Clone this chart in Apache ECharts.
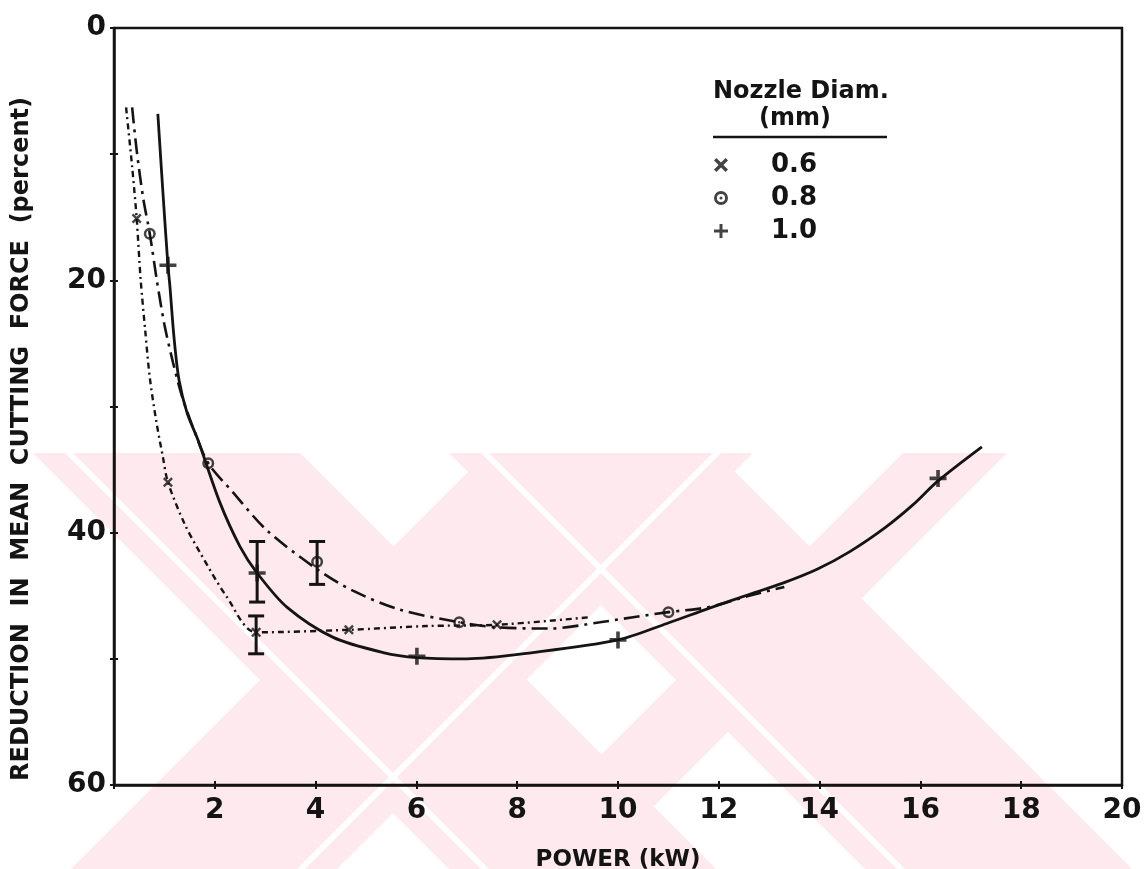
<!DOCTYPE html>
<html><head><meta charset="utf-8">
<script src="https://cdn.jsdelivr.net/npm/echarts@6/dist/echarts.min.js"></script>
<style>html,body{margin:0;padding:0;background:#fff}#c{width:1146px;height:869px}</style>
</head><body><div id="c"></div>
<script>
// ---- data ----
const seriesNames = ['0.6', '0.8', '1.0'];
const xTicks = [2, 4, 6, 8, 10, 12, 14, 16, 18, 20];
const yTicks = [0, 20, 40, 60];

// fitted curves (power kW, reduction %)
const curve06 = [[0.24,6.3],[0.36,11.0],[0.45,15.1],[0.53,20.0],[0.62,24.0],[0.71,27.7],[0.84,31.2],[0.97,34.0],[1.07,36.0],[1.4,39.3],[1.71,41.6],[2.24,45.1],[2.82,47.9],[4.66,47.7],[6.2,47.4],[7.6,47.3],[9.44,46.7]];
const curve08 = [[0.36,6.3],[0.45,9.7],[0.58,13.5],[0.71,16.3],[0.85,20.0],[1.0,23.5],[1.17,26.5],[1.35,29.2],[1.6,32.0],[1.87,34.5],[2.36,36.8],[3.03,39.8],[4.03,42.9],[4.74,44.6],[5.67,46.1],[6.85,47.1],[7.6,47.5],[8.65,47.6],[9.64,47.1],[10.3,46.7],[11.0,46.3],[11.8,45.9],[12.6,45.0],[13.3,44.3]];
const curve10 = [[0.87,6.8],[0.97,13.0],[1.07,18.8],[1.11,20.5],[1.19,24.5],[1.29,27.9],[1.45,30.5],[1.67,32.7],[2.1,37.6],[2.5,41.1],[2.84,43.2],[3.43,45.9],[4.35,48.3],[5.34,49.5],[6.01,49.9],[7.0,50.0],[8.31,49.5],[10.0,48.5],[10.97,47.2],[11.8,46.0],[12.6,44.9],[13.27,44.0],[13.95,42.9],[14.6,41.5],[15.3,39.6],[15.85,37.8],[16.35,35.9],[17.22,33.2]];

// measured points
const points06 = [[0.45,15.1],[1.07,36.0],[2.82,47.9],[4.66,47.7],[7.6,47.3]];
const points08 = [[0.71,16.3],[1.87,34.5],[4.03,42.3],[6.85,47.1],[11.0,46.3]];
const points10 = [[1.07,18.8],[2.84,43.2],[6.01,49.8],[10.0,48.5],[16.35,35.7]];

// error bars [power, low, high]
const errorBars = [[2.84,40.7,45.5],[4.03,40.7,44.1],[2.82,46.6,49.6]];

// ---- styles ----
const INK = '#141414';
const FONT = '"DejaVu Sans", sans-serif';
const symX = 'path://M0,1.7 L1.7,0 L5,3.3 L8.3,0 L10,1.7 L6.7,5 L10,8.3 L8.3,10 L5,6.7 L1.7,10 L0,8.3 L3.3,5 Z';
const symO = 'path://M0,-6 A6,6 0 1,1 0,6 A6,6 0 1,1 0,-6 Z M0,-3.5 A3.5,3.5 0 1,0 0,3.5 A3.5,3.5 0 1,0 0,-3.5 Z M0,-1.3 A1.3,1.3 0 1,1 0,1.3 A1.3,1.3 0 1,1 0,-1.3 Z';
const symP = 'path://M-1.7,-8 H1.7 V-1.7 H8 V1.7 H1.7 V8 H-1.7 V1.7 H-8 V-1.7 H-1.7 Z';

// ---- background scan watermark (decoration, page pixels) ----
const WM_TOP = 453, WM_BOTTOM = 869, WM_PINK = '#fde9ee';
function backBand(c1, c2, fill) { // "\" band: x - y in [c1, c2]
  return {type: 'polygon', z: -100, silent: true,
    shape: {points: [[c1 + WM_TOP, WM_TOP], [c2 + WM_TOP, WM_TOP], [c2 + WM_BOTTOM, WM_BOTTOM], [c1 + WM_BOTTOM, WM_BOTTOM]]},
    style: {fill: fill}};
}
function fwdBand(d1, d2, fill) { // "/" band: x + y in [d1, d2]
  return {type: 'polygon', z: -100, silent: true,
    shape: {points: [[d1 - WM_TOP, WM_TOP], [d2 - WM_TOP, WM_TOP], [d2 - WM_BOTTOM, WM_BOTTOM], [d1 - WM_BOTTOM, WM_BOTTOM]]},
    style: {fill: fill}};
}
const watermark = [
  backBand(-420, -153, WM_PINK), fwdBand(940, 1206, WM_PINK),
  backBand(-4, 263, WM_PINK), fwdBand(1356, 1460, WM_PINK),
  backBand(-388, -380, '#fff'), fwdBand(1166, 1174, '#fff'),
  backBand(28, 36, '#fff')
];

const chart = echarts.init(document.getElementById('c'), null, {renderer: 'canvas'});

function xAxisBase(extra) {
  return Object.assign({
    type: 'value', min: 0, max: 20, interval: 2, position: 'bottom',
    splitLine: {show: false}
  }, extra);
}
function yAxisBase(extra) {
  return Object.assign({
    type: 'value', min: 0, max: 60, interval: 10, inverse: true, position: 'left',
    splitLine: {show: false}
  }, extra);
}
const gridBox = {left: 114, right: 24, top: 28, bottom: 84, containLabel: false, outerBoundsMode: 'none'};

const option = {
  backgroundColor: '#fff',
  animation: false,
  grid: [
    Object.assign({show: true, borderColor: INK, borderWidth: 2.5, backgroundColor: 'transparent'}, gridBox),
    Object.assign({show: false}, gridBox)
  ],
  xAxis: [
    xAxisBase({
      gridIndex: 0,
      name: 'POWER (kW)', nameLocation: 'middle', nameGap: 64,
      nameTextStyle: {fontFamily: FONT, fontSize: 23, fontWeight: 'bold', color: INK},
      axisLine: {show: true, onZero: false, lineStyle: {color: INK, width: 2.5}},
      axisTick: {show: true, inside: false, length: 4, lineStyle: {color: INK, width: 2}},
      axisLabel: {show: true, margin: 12, fontFamily: FONT, fontSize: 28, fontWeight: 'bold', color: INK,
        formatter: v => xTicks.includes(v) ? String(v) : ''}
    }),
    xAxisBase({
      gridIndex: 1,
      axisLine: {show: false, onZero: false}, axisLabel: {show: false},
      axisTick: {show: true, inside: true, length: 4, lineStyle: {color: INK, width: 2}}
    })
  ],
  yAxis: [
    yAxisBase({
      gridIndex: 0,
      axisLine: {show: true, onZero: false, lineStyle: {color: INK, width: 2.5}},
      axisTick: {show: true, inside: false, length: 4, lineStyle: {color: INK, width: 2}},
      axisLabel: {show: true, margin: 8, fontFamily: FONT, fontSize: 28, fontWeight: 'bold', color: INK,
        formatter: v => yTicks.includes(v) ? String(v) : ''}
    }),
    yAxisBase({
      gridIndex: 1,
      axisLine: {show: false, onZero: false}, axisLabel: {show: false},
      axisTick: {show: true, inside: true, length: 4, lineStyle: {color: INK, width: 2}}
    })
  ],
  legend: {
    show: true, orient: 'vertical', left: 709, top: 147, itemGap: 7,
    itemWidth: 14, itemHeight: 14, selectedMode: false,
    textStyle: {fontFamily: FONT, fontSize: 26, fontWeight: 'bold', color: INK, padding: [0, 0, 0, 38]},
    data: [
      {name: '0.6', icon: symX, itemStyle: {color: INK}},
      {name: '0.8', icon: symO, itemStyle: {color: INK}},
      {name: '1.0', icon: symP, itemStyle: {color: INK}}
    ]
  },
  graphic: watermark.concat([
    {type: 'text', x: 22, y: 439, rotation: Math.PI / 2,
      style: {text: 'REDUCTION  IN  MEAN  CUTTING  FORCE  (percent)', font: 'bold 24px "DejaVu Sans", sans-serif',
        fill: INK, align: 'center', verticalAlign: 'middle'}},
    {type: 'text', left: 713, top: 80, style: {text: 'Nozzle Diam.', font: 'bold 24px "DejaVu Sans", sans-serif', fill: INK}},
    {type: 'text', left: 759, top: 107, style: {text: '(mm)', font: 'bold 24px "DejaVu Sans", sans-serif', fill: INK}},
    {type: 'line', shape: {x1: 713, y1: 137, x2: 887, y2: 137}, style: {stroke: INK, lineWidth: 2.5}}
  ]),
  series: [
    {name: 'curve 0.6', type: 'line', data: curve06, showSymbol: false, smooth: 0.3,
      lineStyle: {color: INK, width: 2.4, type: [6, 4, 2, 4]}, z: 3},
    {name: 'curve 0.8', type: 'line', data: curve08, showSymbol: false, smooth: 0.3,
      lineStyle: {color: INK, width: 2.6, type: [16, 6, 3, 6]}, z: 3},
    {name: 'curve 1.0', type: 'line', data: curve10, showSymbol: false, smooth: 0.3,
      lineStyle: {color: INK, width: 2.8, type: 'solid'}, z: 3},
    {name: '0.6', type: 'scatter', data: points06, symbol: symX, symbolSize: 10, itemStyle: {color: INK}, z: 5},
    {name: '0.8', type: 'scatter', data: points08, symbol: symO, symbolSize: 12, itemStyle: {color: INK}, z: 5},
    {name: '1.0', type: 'scatter', data: points10, symbol: symP, symbolSize: 17, itemStyle: {color: INK}, z: 5},
    {name: 'error bars', type: 'custom', data: errorBars, encode: {x: 0, y: [1, 2]}, z: 4,
      renderItem: function (params, api) {
        const x = api.value(0), lo = api.value(1), hi = api.value(2);
        const a = api.coord([x, lo]), b = api.coord([x, hi]);
        const w = 8, st = {stroke: INK, lineWidth: 3};
        return {type: 'group', children: [
          {type: 'line', shape: {x1: a[0], y1: a[1], x2: b[0], y2: b[1]}, style: st},
          {type: 'line', shape: {x1: a[0] - w, y1: a[1], x2: a[0] + w, y2: a[1]}, style: st},
          {type: 'line', shape: {x1: b[0] - w, y1: b[1], x2: b[0] + w, y2: b[1]}, style: st}
        ]};
      }}
  ]
};
chart.setOption(option);
</script>
</body></html>
